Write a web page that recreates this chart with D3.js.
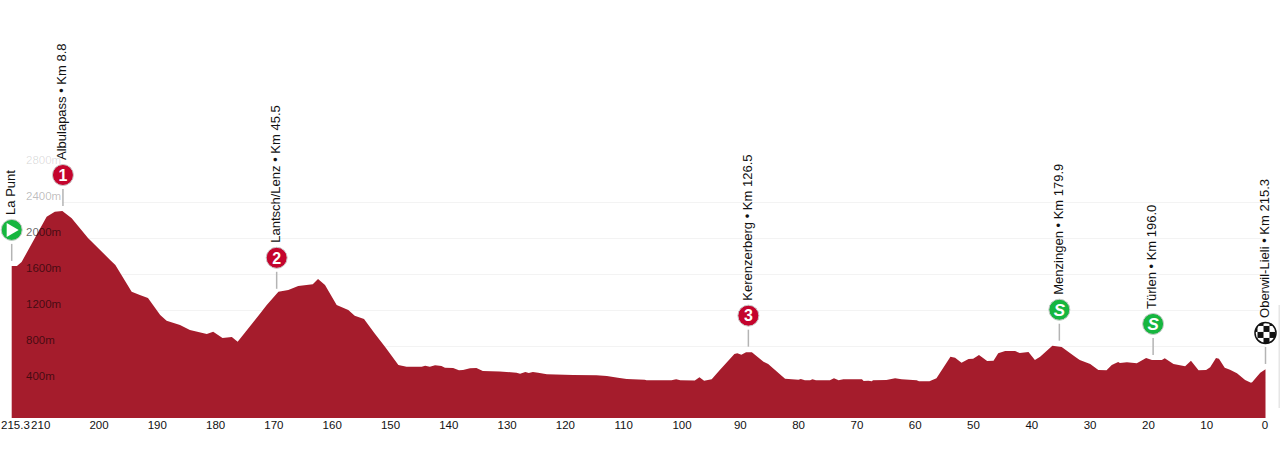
<!DOCTYPE html>
<html>
<head>
<meta charset="utf-8">
<script src="https://cdn.jsdelivr.net/npm/d3@7"></script>
<style>
    html, body { margin: 0; padding: 0; background: #fff; overflow: hidden; }
    text { font-family: "Liberation Sans", Arial, sans-serif; }
</style>
</head>
<body>
<div id="chart"></div>
<script>
// km to go / altitude in metres
const profileKm = [215.3, 214.4, 213.6, 209.3, 207.9, 206.6, 205.0, 202.2, 198.4, 197.5, 194.7, 193.3, 191.9, 189.8, 188.7, 186.4, 184.7, 181.8, 180.7, 179.1, 177.5, 176.5, 172.7, 171.5, 169.5, 167.8, 166.1, 163.6, 162.7, 161.5, 159.5, 157.5, 156.4, 154.8, 153.0, 151.2, 148.9, 147.5, 144.9, 144.3, 143.5, 142.6, 141.5, 140.9, 139.5, 138.5, 137.8, 136.6, 135.5, 134.4, 131.5, 128.6, 128.0, 127.1, 126.5, 125.8, 124.9, 123.4, 118.9, 114.9, 113.1, 111.2, 109.7, 106.6, 106.3, 102.0, 101.2, 100.5, 98.0, 97.2, 96.4, 95.1, 93.7, 91.2, 90.7, 90.0, 89.2, 88.2, 86.2, 85.4, 82.5, 80.2, 79.8, 79.1, 78.2, 77.8, 77.2, 74.8, 74.1, 73.3, 72.5, 69.3, 69.0, 68.2, 67.6, 67.4, 65.1, 63.6, 62.5, 59.9, 59.5, 57.7, 56.5, 54.1, 53.3, 52.2, 51.0, 50.2, 49.2, 47.8, 46.7, 45.9, 44.7, 43.0, 42.2, 40.7, 39.6, 38.7, 36.6, 35.0, 32.7, 31.9, 30.1, 28.7, 27.3, 26.4, 25.3, 25.0, 23.8, 22.1, 20.5, 19.5, 17.8, 17.3, 15.8, 13.8, 12.8, 11.5, 10.2, 9.5, 8.5, 8.0, 7.0, 6.1, 4.9, 3.5, 2.5, 2.3, 0.9, 0]
const profileAltitude = [1690, 1690, 1733, 2237, 2292, 2300, 2219, 2000, 1756, 1700, 1403, 1367, 1333, 1144, 1081, 1033, 978, 933, 959, 889, 900, 848, 1156, 1256, 1403, 1422, 1467, 1486, 1544, 1478, 1256, 1200, 1137, 1100, 941, 792, 589, 570, 570, 581, 570, 586, 578, 559, 556, 530, 533, 552, 556, 522, 517, 503, 492, 511, 500, 511, 503, 486, 478, 474, 467, 448, 433, 426, 419, 419, 430, 419, 417, 452, 414, 430, 533, 711, 719, 703, 730, 730, 626, 600, 437, 426, 432, 419, 419, 430, 419, 419, 441, 419, 430, 430, 411, 414, 408, 419, 422, 441, 430, 419, 408, 408, 441, 681, 670, 614, 656, 659, 700, 633, 637, 719, 744, 744, 722, 733, 644, 681, 803, 789, 681, 644, 600, 533, 530, 589, 622, 611, 619, 608, 667, 644, 644, 663, 600, 574, 637, 530, 533, 563, 667, 659, 559, 537, 497, 422, 392, 397, 503, 541]

const kmTicks = [215.3, 210, 200, 190, 180, 170, 160, 150, 140, 130, 120, 110, 100, 90, 80, 70, 60, 50, 40, 30, 20, 10, 0]
const altitudeTicks = [400, 800, 1200, 1600, 2000, 2400, 2800]

const stopLabels = ["La Punt", "Albulapass • Km 8.8", "Lantsch/Lenz • Km 45.5", "Kerenzerberg • Km 126.5", "Menzingen • Km 179.9", "Türlen • Km 196.0", "Oberwil-Lieli • Km 215.3"]
const stopKm = [215.3, 206.5, 169.8, 88.8, 35.4, 19.3, 0]
const stopAltitude = [1690, 2300, 1380, 737, 803, 645, 545]
const stopBadges = ["start", "1", "2", "3", "S", "S", "finish"]

const width = 1280, height = 456

const svg = d3.select("#chart").append("svg")
    .attr("width", width)
    .attr("height", height)
    .style("display", "block")

const x = d3.scaleLinear().domain([215.3, 0]).range([11.7, 1265.5])
// the km labels sit on a slightly different span than the profile itself
const xLabels = d3.scaleLinear().domain([215.3, 0]).range([9.3, 1264.5])
const y = d3.scaleLinear().domain([0, 2800]).range([418, 166])

// grid, the top tick has no line
svg.append("g").selectAll("line")
    .data(altitudeTicks.filter(d => d < 2800))
    .enter().append("line")
    .attr("x1", 62)
    .attr("x2", x(0))
    .attr("y1", d => y(d) + 0.5)
    .attr("y2", d => y(d) + 0.5)
    .attr("stroke", "#f3f3f3")

// profile
const profile = profileKm.map((km, i) => ({ km: km, alt: profileAltitude[i] }))
const area = d3.area()
    .x(d => x(d.km))
    .y0(y(0))
    .y1(d => y(d.alt))

svg.append("path")
    .datum(profile)
    .attr("d", area)
    .attr("fill", "#a51c2c")

// altitude labels, these fade out towards the top
const labelOpacity = { 2800: 0.14, 2400: 0.27, 2000: 0.6 }
const yAxis = d3.axisRight(y)
    .tickValues(altitudeTicks)
    .tickSize(0)
    .tickPadding(0)
    .tickFormat(d => d + "m")

const yAxisGroup = svg.append("g")
    .attr("transform", "translate(26,0)")
    .call(yAxis)
yAxisGroup.select(".domain").remove()
yAxisGroup.selectAll("text")
    .attr("y", -6)
    .attr("font-size", 11.5)
    .attr("fill", "#000")
    .attr("fill-opacity", d => labelOpacity[d] || 0.6)

// km labels
const xAxis = d3.axisBottom(xLabels)
    .tickValues(kmTicks)
    .tickSize(0)
    .tickPadding(0)
    .tickFormat(d => d)

const xAxisGroup = svg.append("g")
    .attr("transform", "translate(0,420.5)")
    .call(xAxis)
xAxisGroup.select(".domain").remove()
xAxisGroup.selectAll("text")
    .attr("font-size", 11.5)
    .attr("fill", "#111")
// first label would get cut off, so it starts at the page edge
xAxisGroup.selectAll("text")
    .filter(d => d === 215.3)
    .attr("text-anchor", "start")
    .attr("x", 0.5 - xLabels(215.3))

// checker pattern for the finish badge
const defs = svg.append("defs")
const checker = defs.append("pattern")
    .attr("id", "checker")
    .attr("width", 12)
    .attr("height", 12)
    .attr("patternUnits", "userSpaceOnUse")
    .attr("patternTransform", "translate(-2,-2)")
checker.append("rect").attr("width", 12).attr("height", 12).attr("fill", "#fff")
checker.append("rect").attr("width", 6).attr("height", 6).attr("fill", "#111")
checker.append("rect").attr("x", 6).attr("y", 6).attr("width", 6).attr("height", 6).attr("fill", "#111")

// stops: stem, badge and rotated label
const stops = stopLabels.map((label, i) => ({ label: label, km: stopKm[i], alt: stopAltitude[i], badge: stopBadges[i] }))

const stop = svg.append("g").selectAll("g")
    .data(stops)
    .enter().append("g")
    .attr("transform", d => "translate(" + x(d.km) + "," + (y(d.alt) - 5) + ")")

stop.append("line")
    .attr("y1", 0)
    .attr("y2", -17)
    .attr("stroke", "#b4b4b4")
    .attr("stroke-width", 1.5)

stop.append("circle")
    .attr("cy", -31)
    .attr("r", 10.5)
    .attr("stroke", "#c9c9c9")
    .attr("stroke-width", 1)
    .attr("fill", d => {
        if (d.badge === "start" || d.badge === "S") return "#16b63f"
        if (d.badge === "finish") return "#fff"
        return "#c4042d"
    })

// finish badge
stop.filter(d => d.badge === "finish").select("circle")
    .attr("stroke", "#111")
    .attr("stroke-width", 1.5)
    .attr("fill", "url(#checker)")

// start triangle
stop.filter(d => d.badge === "start").append("path")
    .attr("d", "M-5,-38 L7,-31 L-5,-24 Z")
    .attr("fill", "#fff")

stop.filter(d => d.badge !== "start" && d.badge !== "finish").append("text")
    .attr("y", -31)
    .attr("dy", "0.36em")
    .attr("text-anchor", "middle")
    .attr("font-size", d => d.badge === "S" ? 17 : 16)
    .attr("font-weight", "bold")
    .attr("font-style", d => d.badge === "S" ? "italic" : "normal")
    .attr("fill", "#fff")
    .text(d => d.badge)

stop.append("text")
    .attr("transform", "translate(0,-46) rotate(-90)")
    .attr("dy", "0.26em")
    .attr("font-size", 13)
    .attr("fill", "#111")
    .text(d => d.label)

// bit of the page scrollbar that shows at the right edge
svg.append("rect")
    .attr("x", 1278.5)
    .attr("y", 305)
    .attr("width", 1.5)
    .attr("height", 103)
    .attr("fill", "#e6e6e6")
</script>
</body>
</html>
